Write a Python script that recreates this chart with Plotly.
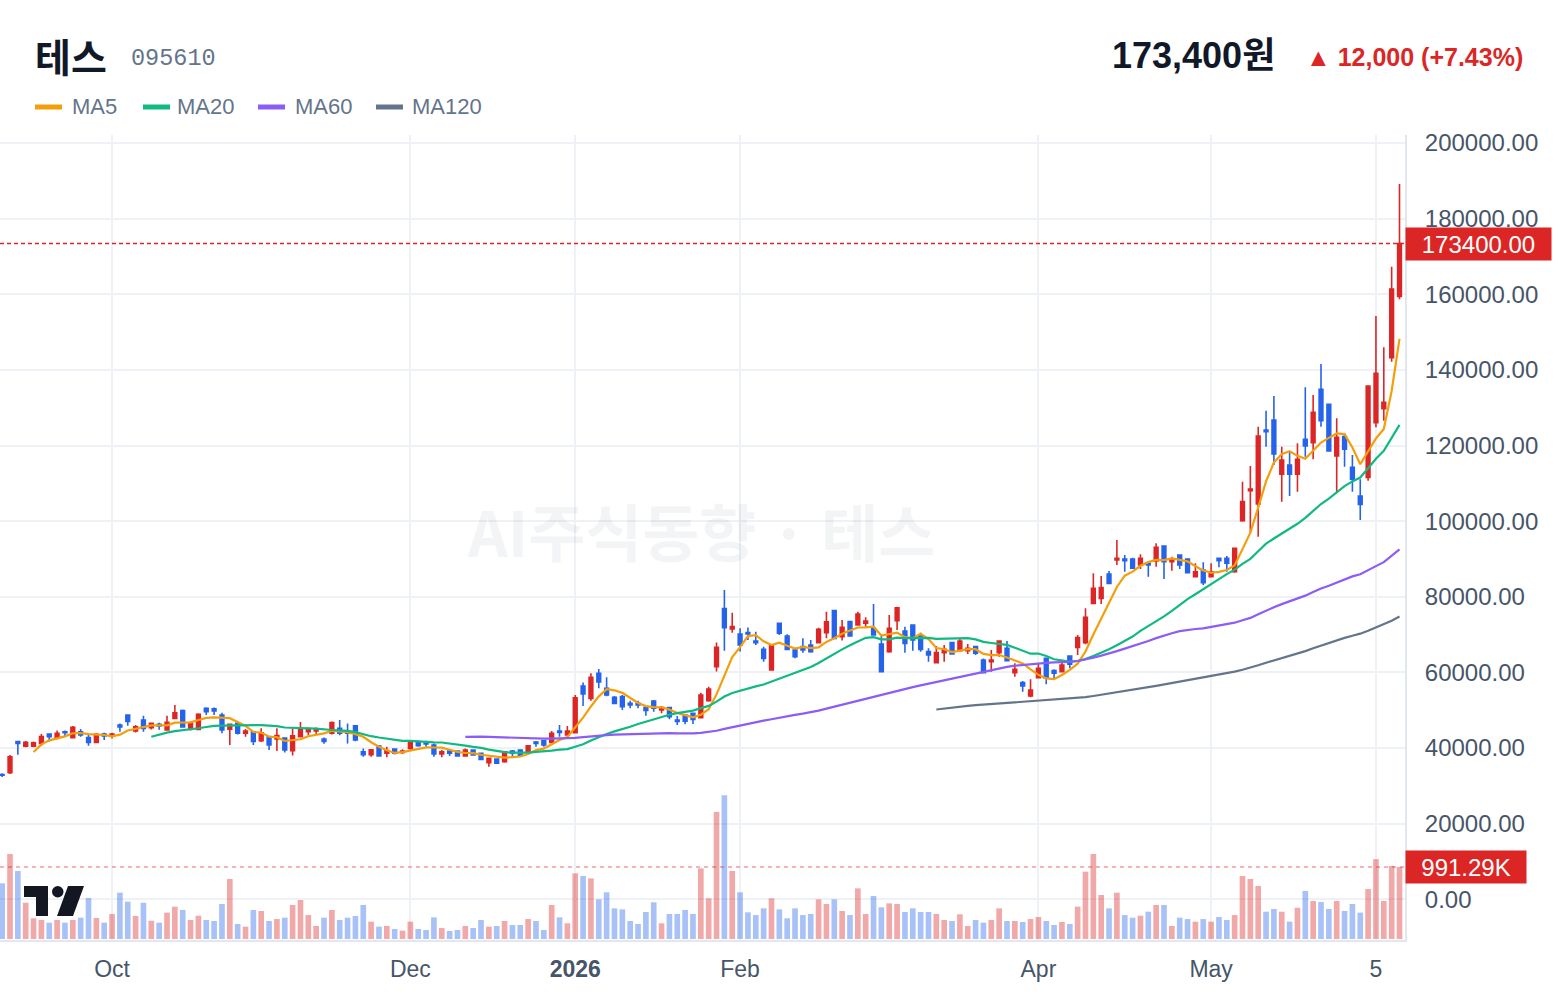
import plotly.graph_objects as go
import pandas as pd

# ---------------- data ----------------
open_ = [33000, 33500, 41700, 40500, 40500, 41230, 43700, 42800, 44300, 42750,
         44300, 42750, 41500, 43700, 43200, 46100, 48700, 44500, 47400, 45400,
         46300, 44800, 47800, 49900, 45200, 44900, 50500, 50400, 48700, 45000,
         46500, 43900, 44300, 41900, 43000, 42400, 42600, 39300, 43000, 44300,
         44500, 42400, 43900, 45200, 44300, 45900, 39000, 38200, 40500, 38600,
         39700, 38800, 39900, 41700, 41500, 40800, 38400, 39200, 39200, 37900,
         39470, 38600, 36100, 37100, 36400, 39200, 39470, 38800, 41600, 41900,
         41500, 44500, 43440, 44060, 56400, 53100, 59750, 55800, 53400, 53580,
         51800, 51800, 50700, 52400, 50050, 50700, 47400, 48700, 49170, 48000,
         52500, 61500, 76900, 71500, 70150, 70500, 68300, 66100, 60630, 72970,
         69620, 65920, 66800, 67240, 67860, 70500, 76320, 69440, 73410, 72530,
         73000, 71650, 67500, 65480, 73680, 70940, 72530, 69890, 65480, 62570,
         65210, 67860, 65740, 65740, 66800, 63270, 62830, 65210, 66360, 59920,
         57280, 53750, 58600, 63710, 60450, 60190, 64330, 66620, 67860, 78260,
         79580, 86020, 89720, 89980, 89980, 88400, 88840, 89460, 93420, 89280,
         91040, 89980, 85310, 87070, 85310, 90160, 90160, 86630, 100120, 108060,
         104530, 124100, 126750, 112380, 114850, 112380, 121630, 120750, 134850, 130890,
         117220, 122340, 114230, 106650, 111580, 126040, 129740, 143230, 159400]
high = [33300, 38150, 41700, 41850, 41700, 43700, 43800, 44600, 44600, 45800,
        45000, 43600, 43900, 44050, 44050, 46500, 48800, 46100, 48500, 46700,
        46700, 48500, 51400, 50200, 47000, 49200, 50800, 50700, 49300, 46500,
        46800, 45000, 44400, 45200, 43100, 45200, 42600, 45200, 46900, 45400,
        45400, 42800, 47000, 47400, 46500, 46100, 39900, 39650, 40800, 40350,
        39900, 39650, 41850, 41900, 41900, 41200, 39470, 39470, 39300, 39900,
        39600, 38700, 37450, 37100, 39200, 39470, 39700, 40800, 41850, 42100,
        44500, 46100, 45820, 54000, 57300, 59750, 60900, 58700, 53750, 54020,
        52520, 52500, 50900, 52700, 51110, 50700, 48460, 48800, 49340, 54600,
        56200, 67900, 81800, 75800, 71650, 71900, 70770, 66800, 67400, 73000,
        70060, 66360, 69000, 68560, 71820, 76060, 76320, 73850, 73600, 76060,
        74560, 78080, 70000, 75170, 77380, 72090, 72700, 70500, 66360, 66980,
        67240, 68000, 69000, 67500, 67000, 63700, 65920, 68400, 68300, 62400,
        57720, 58160, 62400, 63800, 60810, 63270, 64400, 69890, 76940, 86190,
        85490, 86810, 95010, 91040, 90340, 91220, 89100, 94130, 93500, 90600,
        91100, 90000, 88840, 89100, 88840, 90160, 90780, 93000, 110440, 114580,
        124980, 129210, 133090, 119690, 118550, 120570, 135380, 133360, 141550, 131000,
        127190, 123220, 117490, 111060, 135900, 154250, 145960, 167290, 189150]
low = [32300, 33100, 38200, 40200, 40200, 40530, 41700, 42300, 43200, 42700,
       43000, 40600, 41230, 42100, 42500, 44300, 45900, 44100, 44300, 44900,
       44800, 44700, 47600, 45400, 44600, 44800, 48700, 48700, 43900, 40800,
       43600, 43000, 40800, 41600, 39500, 39200, 38800, 38000, 42800, 43400,
       43600, 41100, 43600, 43400, 41200, 41800, 37700, 37700, 37700, 37530,
       38300, 38400, 39470, 40350, 40350, 37700, 37530, 37880, 37800, 37700,
       38000, 36800, 35060, 35800, 36100, 37530, 37700, 38600, 40350, 40350,
       41200, 43000, 43300, 43900, 51100, 52500, 55800, 53700, 51600, 50050,
       50490, 50500, 48500, 49600, 49170, 47600, 46080, 46300, 46350, 47800,
       52250, 60200, 65700, 70500, 65500, 68560, 67240, 62800, 60450, 69890,
       65920, 63710, 65210, 65210, 67680, 69000, 68800, 68400, 69440, 72350,
       72090, 69700, 60190, 65200, 71200, 65210, 65740, 65480, 62830, 62400,
       62830, 64700, 65600, 64860, 64600, 59900, 60190, 64150, 62900, 58870,
       54900, 53400, 58430, 56840, 58430, 60000, 61070, 64600, 67420, 78100,
       78080, 83380, 88400, 86630, 87340, 87340, 85310, 87960, 84690, 86900,
       87340, 86200, 85200, 83110, 85130, 87780, 86630, 86370, 99860, 96950,
       95890, 119690, 114850, 105150, 106650, 107790, 117050, 116340, 124980, 118370,
       107530, 114400, 107790, 100300, 110700, 124810, 126570, 142170, 158660]
close = [32800, 37700, 41200, 41500, 41400, 43000, 43000, 43900, 44050, 45450,
         43450, 41500, 43600, 43200, 43700, 45600, 47000, 45600, 45200, 46500,
         45800, 46800, 49300, 45600, 46500, 48900, 49600, 49800, 44800, 46300,
         43900, 44500, 41700, 44000, 40800, 43300, 39500, 43200, 44800, 44800,
         44800, 41700, 46700, 43900, 43900, 42100, 38200, 39500, 37900, 39300,
         38600, 39200, 41400, 40600, 41050, 38400, 39000, 38600, 37900, 39470,
         38150, 37000, 37300, 35950, 39000, 38600, 37880, 40600, 41200, 40800,
         43900, 44100, 44500, 53300, 54300, 58700, 57500, 54000, 51800, 50930,
         51370, 51370, 49900, 50500, 50670, 48300, 47000, 47100, 47580, 54000,
         55600, 66600, 71800, 72100, 67250, 70150, 67850, 63700, 67240, 70330,
         66090, 64150, 65920, 65480, 71380, 73400, 69000, 71910, 69620, 75440,
         73590, 69890, 60190, 71650, 77110, 67680, 68560, 66090, 64600, 65210,
         66090, 64860, 68300, 66360, 65040, 59920, 63270, 68300, 63100, 60810,
         56400, 55340, 61070, 58430, 59750, 61950, 62130, 69180, 74560, 82230,
         82400, 83550, 90160, 89540, 87520, 90160, 88400, 93070, 89280, 89720,
         88400, 86370, 86630, 83720, 86630, 89540, 88840, 92800, 105150, 108500,
         122520, 123660, 117760, 116170, 112380, 116340, 119870, 128770, 126570, 118550,
         122160, 118990, 111060, 104440, 135740, 139090, 131420, 161390, 173400]
volume = [767000, 1170000, 936000, 500000, 285000, 262000, 225000, 262000, 225000, 262000,
          294000, 565000, 290000, 225000, 344000, 638000, 514000, 317000, 500000, 252000,
          225000, 363000, 445000, 399000, 262000, 321000, 262000, 248000, 482000, 826000,
          207000, 170000, 399000, 386000, 248000, 275000, 294000, 468000, 537000, 330000,
          179000, 294000, 399000, 262000, 294000, 317000, 468000, 239000, 170000, 179000,
          138000, 115000, 239000, 138000, 124000, 298000, 151000, 110000, 124000, 179000,
          151000, 262000, 170000, 179000, 248000, 193000, 193000, 275000, 248000, 124000,
          468000, 298000, 216000, 904000, 867000, 835000, 546000, 643000, 422000, 408000,
          248000, 207000, 372000, 505000, 216000, 344000, 344000, 399000, 344000, 973000,
          560000, 1750000, 1980000, 936000, 643000, 367000, 330000, 422000, 560000, 408000,
          285000, 422000, 330000, 344000, 546000, 482000, 546000, 386000, 330000, 697000,
          344000, 592000, 436000, 491000, 482000, 372000, 422000, 372000, 372000, 344000,
          262000, 248000, 340000, 179000, 262000, 225000, 262000, 422000, 248000, 248000,
          234000, 275000, 303000, 248000, 193000, 234000, 207000, 445000, 927000, 1170000,
          606000, 422000, 638000, 330000, 294000, 321000, 376000, 468000, 468000, 179000,
          294000, 275000, 239000, 275000, 239000, 303000, 262000, 330000, 867000, 826000,
          730000, 376000, 413000, 376000, 239000, 431000, 661000, 523000, 509000, 413000,
          523000, 386000, 482000, 363000, 688000, 1100000, 523000, 1005000, 991290]

tick_pos = [14, 52, 73, 94, 132, 154, 175]
tick_text = ["Oct", "Dec", "<b>2026</b>", "Feb", "Apr", "May", "5"]
price_ticks = list(range(0, 200001, 20000))

ma_periods = [5, 20, 60, 120]
ma_names = ["MA5", "MA20", "MA60", "MA120"]
ma_colors = ["#f59e0b", "#10b981", "#8b5cf6", "#64748b"]

last_price = close[-1]
last_volume = volume[-1]

# ---------------- style ----------------
UP = "#dc2626"
DN = "#2563eb"
UP_V = "rgba(220,38,38,0.40)"
DN_V = "rgba(37,99,235,0.40)"
GRID = "#eef1f5"
AXLINE = "#e2e6ee"
TXT = "#475569"
FONT = "Liberation Sans, Arial, Noto Sans CJK KR, sans-serif"
KFONT = "Noto Sans CJK KR, Liberation Sans, sans-serif"

W, H = 1560, 996
L, R, T, B = 0, 155, 135, 56
PW, PH = W - L - R, H - T - B


def px(xp):
    return (xp - L) / PW


def py(yp):
    return (H - B - yp) / PH


idx = list(range(len(close)))
s = pd.Series(close, dtype=float)
vol_colors = [UP_V if c >= o else DN_V for o, c in zip(open_, close)]

fig = go.Figure()

fig.add_trace(go.Bar(x=idx, y=volume, width=0.72, marker=dict(color=vol_colors, line=dict(width=0)),
                     yaxis="y2", showlegend=False, hoverinfo="skip"))

fig.add_trace(go.Candlestick(
    x=idx, open=open_, high=high, low=low, close=close,
    increasing=dict(line=dict(color=UP, width=1.6), fillcolor=UP),
    decreasing=dict(line=dict(color=DN, width=1.6), fillcolor=DN),
    whiskerwidth=0, showlegend=False))

for p, n, c in zip(ma_periods, ma_names, ma_colors):
    ma = s.rolling(p).mean()
    fig.add_trace(go.Scatter(x=idx, y=ma, mode="lines", name=n,
                             line=dict(color=c, width=2.2), showlegend=False,
                             connectgaps=False))

# ---------------- axes ----------------
fig.update_layout(
    width=W, height=H,
    margin=dict(l=L, r=R, t=T, b=B, pad=0),
    paper_bgcolor="white", plot_bgcolor="white",
    font=dict(family=FONT, color=TXT),
    boxgap=0.32,
    showlegend=False,
    xaxis=dict(range=[-0.274, 178.7], tickmode="array", tickvals=tick_pos, ticktext=tick_text,
               showgrid=True, gridcolor=GRID, gridwidth=1.5, zeroline=False,
               showline=True, linecolor=AXLINE, linewidth=2, ticks="",
               tickfont=dict(size=23, color=TXT, family=FONT), ticklabelstandoff=7,
               rangeslider=dict(visible=False), fixedrange=True),
    yaxis=dict(side="right", range=[-10776, 202114], tickmode="array", tickvals=price_ticks,
               tickformat=".2f", showgrid=True, gridcolor=GRID, gridwidth=1.5, zeroline=False,
               showline=True, linecolor=AXLINE, linewidth=2, ticks="",
               tickfont=dict(size=24, color=TXT, family=FONT), ticklabelstandoff=13),
    yaxis2=dict(overlaying="y", range=[-13768, 11070000], visible=False, showgrid=False),
)

shapes = []
annotations = []

# last price dashed line
shapes.append(dict(type="line", xref="paper", x0=0, x1=1, yref="y", y0=last_price, y1=last_price,
                   line=dict(color=UP, width=1.5, dash="4px,3px")))
# last volume dashed line
shapes.append(dict(type="line", xref="paper", x0=0, x1=1, yref="y2", y0=last_volume, y1=last_volume,
                   line=dict(color="rgba(220,38,38,0.45)", width=1.5, dash="4px,4px")))

annotations.append(dict(xref="paper", x=1, xanchor="left", yref="y", y=last_price, yanchor="middle",
                        text=f"{last_price:.2f}", showarrow=False, bgcolor=UP, borderpad=4,
                        width=137, height=24, align="center",
                        font=dict(size=24, color="white", family=FONT)))
annotations.append(dict(xref="paper", x=1, xanchor="left", yref="y2", y=last_volume, yanchor="middle",
                        text=f"{last_volume/1000:.2f}K", showarrow=False, bgcolor=UP, borderpad=4,
                        width=112, height=24, align="center",
                        font=dict(size=24, color="white", family=FONT)))

# watermark
annotations.append(dict(xref="paper", yref="paper", x=px(701), y=py(530), text="<b>AI주식동향 · 테스</b>",
                        showarrow=False, xanchor="center", yanchor="middle",
                        font=dict(size=62, color="rgba(148,163,184,0.12)", family=KFONT)))

# header
annotations.append(dict(xref="paper", yref="paper", x=px(33), y=py(55), xanchor="left", yanchor="middle",
                        text="<b>테스</b>", showarrow=False,
                        font=dict(size=39, color="#111827", family=KFONT)))
annotations.append(dict(xref="paper", yref="paper", x=px(129), y=py(59), xanchor="left", yanchor="middle",
                        text="095610", showarrow=False,
                        font=dict(size=23.5, color="#64748b", family="Liberation Mono, monospace")))
annotations.append(dict(xref="paper", yref="paper", x=px(1277), y=py(55), xanchor="right", yanchor="middle",
                        text="<b>173,400원</b>", showarrow=False,
                        font=dict(size=36, color="#111827", family=FONT)))
annotations.append(dict(xref="paper", yref="paper", x=px(1525), y=py(57), xanchor="right", yanchor="middle",
                        text="<b>▲ 12,000 (+7.43%)</b>", showarrow=False,
                        font=dict(size=25, color=UP, family=FONT)))

# legend (manual)
leg = [(35, 72), (143, 177), (258, 295), (376, 412)]
for (sx, tx), n, c in zip(leg, ma_names, ma_colors):
    shapes.append(dict(type="rect", xref="paper", yref="paper", x0=px(sx), x1=px(sx + 27),
                       y0=py(109.5), y1=py(104.5), fillcolor=c, line=dict(width=0)))
    annotations.append(dict(xref="paper", yref="paper", x=px(tx - 2), y=py(107), xanchor="left",
                            yanchor="middle", text=n, showarrow=False,
                            font=dict(size=22, color="#64748b", family=FONT)))


# TradingView-like logo
def pth(points):
    return "M " + " L ".join(f"{px(a):.5f},{py(b):.5f}" for a, b in points) + " Z"


LOGO = "#131722"
shapes.append(dict(type="path", xref="paper", yref="paper",
                   path=pth([(24, 886), (48, 886), (48, 916), (36, 916), (36, 897), (24, 897)]),
                   fillcolor=LOGO, line=dict(width=0)))
shapes.append(dict(type="circle", xref="paper", yref="paper", x0=px(52), x1=px(63.5),
                   y0=py(897.5), y1=py(886), fillcolor=LOGO, line=dict(width=0)))
shapes.append(dict(type="path", xref="paper", yref="paper",
                   path=pth([(68, 886), (84, 886), (73, 916), (57, 916)]),
                   fillcolor=LOGO, line=dict(width=0)))

fig.update_layout(shapes=shapes, annotations=annotations)

fig.write_html("out.html", config={"displayModeBar": False})
